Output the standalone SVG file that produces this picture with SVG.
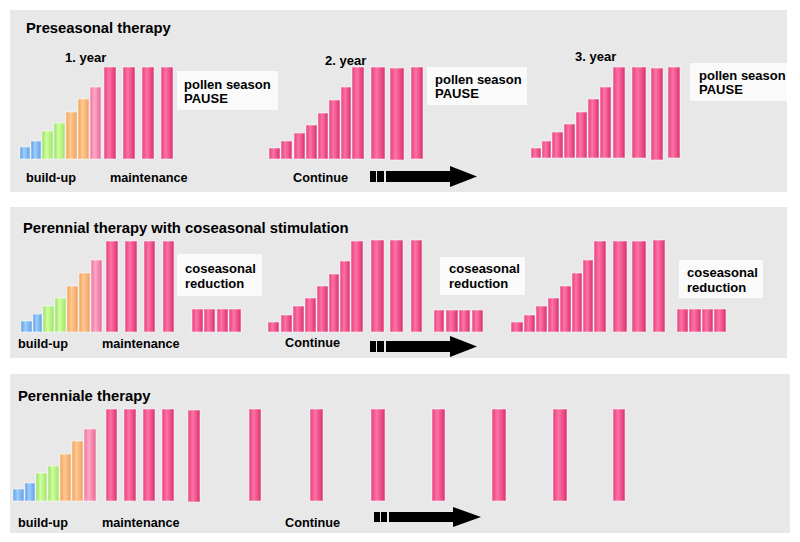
<svg xmlns="http://www.w3.org/2000/svg" width="800" height="542" viewBox="0 0 800 542">
<defs>
<linearGradient id="gPink" x1="0" y1="0" x2="1" y2="0">
<stop offset="0" stop-color="#e4407c"/><stop offset="0.4" stop-color="#ff72a6"/><stop offset="1" stop-color="#d8306e"/>
</linearGradient>
<linearGradient id="gLight" x1="0" y1="0" x2="1" y2="0">
<stop offset="0" stop-color="#ee72a0"/><stop offset="0.4" stop-color="#ffa6c6"/><stop offset="1" stop-color="#e86894"/>
</linearGradient>
<linearGradient id="gOrange" x1="0" y1="0" x2="1" y2="0">
<stop offset="0" stop-color="#f0a055"/><stop offset="0.4" stop-color="#ffc991"/><stop offset="1" stop-color="#eea060"/>
</linearGradient>
<linearGradient id="gGreen" x1="0" y1="0" x2="1" y2="0">
<stop offset="0" stop-color="#94de62"/><stop offset="0.4" stop-color="#cfff9e"/><stop offset="1" stop-color="#9ee468"/>
</linearGradient>
<linearGradient id="gBlue" x1="0" y1="0" x2="1" y2="0">
<stop offset="0" stop-color="#5a9ae0"/><stop offset="0.4" stop-color="#9dcfff"/><stop offset="1" stop-color="#5f9ee6"/>
</linearGradient>
</defs>
<style>
.panel{fill:#e8e8e8}
.box{fill:#fafafa}
.b{stroke:#ffffff;stroke-opacity:0.55;stroke-width:1}
.pk{fill:url(#gPink)}
.lp{fill:url(#gLight)}
.or{fill:url(#gOrange)}
.gr{fill:url(#gGreen)}
.bl{fill:url(#gBlue)}
text{font-family:"Liberation Sans",Arial,sans-serif;font-weight:bold;fill:#000}
.t{font-size:14.8px}
.l{font-size:12.7px}
.y{font-size:13px}
.bx{font-size:13px}
.arr{fill:#000}
</style>
<rect width="800" height="542" fill="#fff"/>

<g id="panel-preseasonal">
<rect class="panel" x="10" y="10" width="777" height="182"/>
<text class="t" x="26" y="33">Preseasonal therapy</text>
<g id="p1-year1">
<text class="y" x="65" y="62">1. year</text>
<rect class="b bl" x="20" y="147" width="10" height="12"/>
<rect class="b bl" x="31" y="141" width="10" height="18"/>
<rect class="b gr" x="42" y="131" width="11" height="28"/>
<rect class="b gr" x="54" y="123" width="11" height="36"/>
<rect class="b or" x="66" y="112" width="11" height="47"/>
<rect class="b or" x="78" y="99" width="11" height="60"/>
<rect class="b lp" x="90" y="87" width="11" height="72"/>
<rect class="b pk" x="104" y="67" width="12" height="92"/>
<rect class="b pk" x="123" y="67" width="12" height="92"/>
<rect class="b pk" x="142" y="67" width="12" height="92"/>
<rect class="b pk" x="161" y="67" width="12" height="92"/>
</g>
<g id="p1-pause1">
<rect class="box" x="177" y="71" width="101" height="39"/>
<text class="bx" x="184" y="89">pollen season</text>
<text class="bx" x="184" y="103">PAUSE</text>
</g>
<g id="p1-year2">
<text class="y" x="325" y="65">2. year</text>
<rect class="b pk" x="269" y="148" width="11" height="11"/>
<rect class="b pk" x="281" y="141" width="11" height="18"/>
<rect class="b pk" x="294" y="133" width="11" height="26"/>
<rect class="b pk" x="306" y="125" width="11" height="34"/>
<rect class="b pk" x="318" y="113" width="10" height="46"/>
<rect class="b pk" x="329" y="100" width="11" height="59"/>
<rect class="b pk" x="341" y="87" width="10" height="72"/>
<rect class="b pk" x="352" y="67" width="12" height="92"/>
<rect class="b pk" x="371" y="67" width="14" height="92"/>
<rect class="b pk" x="390" y="68" width="14" height="92"/>
<rect class="b pk" x="411" y="67" width="12" height="92"/>
</g>
<g id="p1-pause2">
<rect class="box" x="427" y="67" width="100" height="38"/>
<text class="bx" x="435" y="84">pollen season</text>
<text class="bx" x="435" y="98">PAUSE</text>
</g>
<g id="p1-year3">
<text class="y" x="575" y="61">3. year</text>
<rect class="b pk" x="531" y="148" width="10" height="10"/>
<rect class="b pk" x="542" y="141" width="9" height="17"/>
<rect class="b pk" x="552" y="132" width="11" height="26"/>
<rect class="b pk" x="564" y="124" width="11" height="34"/>
<rect class="b pk" x="576" y="112" width="11" height="46"/>
<rect class="b pk" x="588" y="99" width="11" height="59"/>
<rect class="b pk" x="600" y="87" width="11" height="71"/>
<rect class="b pk" x="613" y="67" width="12" height="91"/>
<rect class="b pk" x="632" y="67" width="14" height="91"/>
<rect class="b pk" x="651" y="68" width="12" height="92"/>
<rect class="b pk" x="668" y="67" width="12" height="91"/>
</g>
<g id="p1-pause3">
<rect class="box" x="690" y="63" width="97" height="38"/>
<text class="bx" x="699" y="80">pollen season</text>
<text class="bx" x="699" y="94">PAUSE</text>
</g>
<text class="l" x="26" y="182">build-up</text>
<text class="l" x="110" y="182">maintenance</text>
<text class="l" x="293" y="182">Continue</text>
</g>

<g id="panel-perennial-coseasonal">
<rect class="panel" x="10" y="207" width="777" height="151"/>
<text class="t" x="23" y="233">Perennial therapy with coseasonal stimulation</text>
<g id="p2-group1">
<rect class="b bl" x="21" y="321" width="11" height="11"/>
<rect class="b bl" x="33" y="314" width="9" height="18"/>
<rect class="b gr" x="43" y="306" width="11" height="26"/>
<rect class="b gr" x="55" y="298" width="11" height="34"/>
<rect class="b or" x="67" y="286" width="11" height="46"/>
<rect class="b or" x="79" y="273" width="11" height="59"/>
<rect class="b lp" x="91" y="260" width="11" height="72"/>
<rect class="b pk" x="106" y="241" width="12" height="91"/>
<rect class="b pk" x="125" y="241" width="12" height="91"/>
<rect class="b pk" x="144" y="241" width="11" height="91"/>
<rect class="b pk" x="163" y="241" width="11" height="91"/>
<rect class="b pk" x="192" y="309" width="11" height="23"/>
<rect class="b pk" x="204" y="309" width="11" height="23"/>
<rect class="b pk" x="217" y="309" width="11" height="23"/>
<rect class="b pk" x="229" y="309" width="12" height="23"/>
</g>
<g id="p2-reduction1">
<rect class="box" x="177" y="254" width="85" height="42"/>
<text class="bx" x="185" y="273">coseasonal</text>
<text class="bx" x="185" y="288">reduction</text>
</g>
<g id="p2-group2">
<rect class="b pk" x="268" y="322" width="11" height="10"/>
<rect class="b pk" x="281" y="315" width="11" height="17"/>
<rect class="b pk" x="293" y="306" width="11" height="26"/>
<rect class="b pk" x="305" y="298" width="11" height="34"/>
<rect class="b pk" x="317" y="286" width="11" height="46"/>
<rect class="b pk" x="329" y="274" width="10" height="58"/>
<rect class="b pk" x="340" y="261" width="10" height="71"/>
<rect class="b pk" x="351" y="241" width="12" height="91"/>
<rect class="b pk" x="371" y="240" width="13" height="92"/>
<rect class="b pk" x="390" y="240" width="13" height="92"/>
<rect class="b pk" x="411" y="240" width="11" height="92"/>
<rect class="b pk" x="434" y="310" width="10" height="22"/>
<rect class="b pk" x="446" y="310" width="12" height="22"/>
<rect class="b pk" x="459" y="310" width="11" height="22"/>
<rect class="b pk" x="472" y="310" width="11" height="22"/>
</g>
<g id="p2-reduction2">
<rect class="box" x="440" y="257" width="85" height="38"/>
<text class="bx" x="449" y="273">coseasonal</text>
<text class="bx" x="449" y="288">reduction</text>
</g>
<g id="p2-group3">
<rect class="b pk" x="511" y="322" width="12" height="10"/>
<rect class="b pk" x="524" y="315" width="11" height="17"/>
<rect class="b pk" x="536" y="306" width="11" height="26"/>
<rect class="b pk" x="548" y="298" width="11" height="34"/>
<rect class="b pk" x="560" y="286" width="11" height="46"/>
<rect class="b pk" x="572" y="273" width="10" height="59"/>
<rect class="b pk" x="583" y="260" width="10" height="72"/>
<rect class="b pk" x="594" y="241" width="12" height="91"/>
<rect class="b pk" x="613" y="241" width="14" height="91"/>
<rect class="b pk" x="632" y="241" width="14" height="91"/>
<rect class="b pk" x="653" y="240" width="12" height="92"/>
<rect class="b pk" x="677" y="309" width="11" height="23"/>
<rect class="b pk" x="689" y="309" width="12" height="23"/>
<rect class="b pk" x="702" y="309" width="11" height="23"/>
<rect class="b pk" x="714" y="309" width="12" height="23"/>
</g>
<g id="p2-reduction3">
<rect class="box" x="679" y="260" width="84" height="38"/>
<text class="bx" x="687" y="277">coseasonal</text>
<text class="bx" x="687" y="292">reduction</text>
</g>
<text class="l" x="18" y="348">build-up</text>
<text class="l" x="102" y="348">maintenance</text>
<text class="l" x="285" y="347">Continue</text>
</g>

<g id="panel-perenniale">
<rect class="panel" x="10" y="374" width="780" height="159"/>
<text class="t" x="18" y="401">Perenniale therapy</text>
<g id="p3-bars">
<rect class="b bl" x="13" y="489" width="11" height="12"/>
<rect class="b bl" x="25" y="483" width="10" height="18"/>
<rect class="b gr" x="36" y="473" width="11" height="28"/>
<rect class="b gr" x="48" y="466" width="11" height="35"/>
<rect class="b or" x="60" y="454" width="11" height="47"/>
<rect class="b or" x="72" y="441" width="11" height="60"/>
<rect class="b lp" x="84" y="429" width="12" height="72"/>
<rect class="b pk" x="106" y="409" width="11" height="92"/>
<rect class="b pk" x="124" y="409" width="12" height="92"/>
<rect class="b pk" x="143" y="409" width="12" height="92"/>
<rect class="b pk" x="162" y="409" width="12" height="92"/>
<rect class="b pk" x="188" y="410" width="12" height="92"/>
<rect class="b pk" x="249" y="409" width="12" height="92"/>
<rect class="b pk" x="310" y="409" width="13" height="92"/>
<rect class="b pk" x="371" y="409" width="14" height="92"/>
<rect class="b pk" x="432" y="409" width="13" height="92"/>
<rect class="b pk" x="492" y="409" width="14" height="92"/>
<rect class="b pk" x="553" y="409" width="14" height="92"/>
<rect class="b pk" x="613" y="409" width="12" height="92"/>
</g>
<text class="l" x="18" y="527">build-up</text>
<text class="l" x="102" y="527">maintenance</text>
<text class="l" x="285" y="527">Continue</text>
</g>

<g id="connectors">
<g id="arrow-1">
<rect class="arr" x="370" y="171" width="6" height="11"/>
<rect class="arr" x="377" y="171" width="7" height="11"/>
<rect class="arr" x="386" y="171" width="65" height="11"/>
<polygon class="arr" points="450,166 477,176.5 450,187"/>
</g>
<g id="arrow-2">
<rect class="arr" x="370" y="341" width="6" height="11"/>
<rect class="arr" x="377" y="341" width="7" height="11"/>
<rect class="arr" x="386" y="341" width="65" height="11"/>
<polygon class="arr" points="450,336 477,346.5 450,357"/>
</g>
<g id="arrow-3">
<rect class="arr" x="374" y="512" width="6" height="10"/>
<rect class="arr" x="381" y="512" width="6" height="10"/>
<rect class="arr" x="389" y="512" width="65" height="10"/>
<polygon class="arr" points="453,507 481,517 453,527"/>
</g>
</g>
</svg>
